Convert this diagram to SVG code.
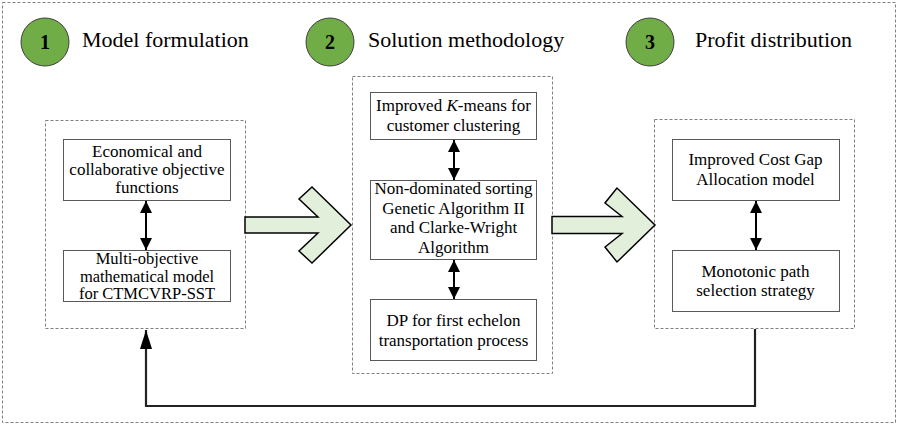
<svg xmlns="http://www.w3.org/2000/svg" width="899" height="425" viewBox="0 0 899 425">
<style>
.dash{fill:none;stroke:#808080;stroke-width:1;stroke-dasharray:3 2}
.box{fill:#fff;stroke:#595959;stroke-width:1}
.num{fill:#70AD47;stroke:#404040;stroke-width:1}
.ntxt{font-family:"Liberation Serif",serif;font-size:20px;font-weight:bold;fill:#000;text-anchor:middle}
.title{font-family:"Liberation Serif",serif;font-size:22px;fill:#000}
.t{font-family:"Liberation Serif",serif;font-size:17px;fill:#000;text-anchor:middle}
.ts{font-size:16.5px}
.big{fill:#E2EFDA;stroke:#000;stroke-width:1.5;stroke-linejoin:miter}
.link{fill:none;stroke:#000;stroke-width:2}
.fb{fill:none;stroke:#222;stroke-width:2.2}
</style>
<defs>
<marker id="ah" viewBox="0 0 12 12" refX="12" refY="6" markerWidth="12" markerHeight="12" markerUnits="userSpaceOnUse" orient="auto-start-reverse">
<path d="M0,0 L12,6 L0,12 z" fill="#000"/>
</marker>
<marker id="ahl" viewBox="0 0 19 12" refX="19" refY="6" markerWidth="19" markerHeight="12" markerUnits="userSpaceOnUse" orient="auto">
<path d="M0,0 L19,6 L0,12 z" fill="#000"/>
</marker>
</defs>
<rect class="dash" x="2.5" y="2.5" width="893" height="420"/>

<g id="step1">
<circle class="num" cx="45" cy="42" r="24"/>
<text class="ntxt" x="45" y="49">1</text>
<text class="title" x="82" y="47">Model formulation</text>
</g>
<g id="step2">
<circle class="num" cx="330" cy="42" r="24"/>
<text class="ntxt" x="330" y="49">2</text>
<text class="title" x="368" y="47">Solution methodology</text>
</g>
<g id="step3">
<circle class="num" cx="650" cy="42" r="24"/>
<text class="ntxt" x="650" y="49">3</text>
<text class="title" x="695" y="47">Profit distribution</text>
</g>

<g id="group1">
<rect class="dash" x="45.5" y="120.5" width="200" height="208"/>
</g>
<g id="group2">
<rect class="dash" x="352.5" y="76.5" width="200" height="297"/>
</g>
<g id="group3">
<rect class="dash" x="654.5" y="119.5" width="200" height="209"/>
</g>

<g id="node-econ">
<rect class="box" x="63.5" y="139.5" width="167" height="61"/>
<text class="t" x="147" y="157">Economical and</text>
<text class="t" x="147" y="175">collaborative objective</text>
<text class="t" x="147" y="193">functions</text>
</g>
<g id="node-multi">
<rect class="box" x="63.5" y="250.5" width="167" height="51"/>
<text class="t ts" x="147" y="264">Multi-objective</text>
<text class="t ts" x="147" y="281.5">mathematical model</text>
<text class="t ts" x="147" y="299">for CTMCVRP-SST</text>
</g>

<g id="node-kmeans">
<rect class="box" x="370.5" y="92.5" width="166" height="47"/>
<text class="t" x="453.5" y="111">Improved <tspan font-style="italic">K</tspan>-means for</text>
<text class="t" x="453.5" y="131">customer clustering</text>
</g>
<g id="node-nsga">
<rect class="box" x="370.5" y="180.5" width="166" height="79"/>
<text class="t" x="453.5" y="194">Non-dominated sorting</text>
<text class="t" x="453.5" y="213.5">Genetic Algorithm II</text>
<text class="t" x="453.5" y="233">and Clarke-Wright</text>
<text class="t" x="453.5" y="252.5">Algorithm</text>
</g>
<g id="node-dp">
<rect class="box" x="370.5" y="299.5" width="166" height="61"/>
<text class="t" x="453.5" y="326">DP for first echelon</text>
<text class="t" x="453.5" y="346">transportation process</text>
</g>

<g id="node-ccga">
<rect class="box" x="672.5" y="139.5" width="167" height="61"/>
<text class="t" x="755.5" y="165">Improved Cost Gap</text>
<text class="t" x="755.5" y="185">Allocation model</text>
</g>
<g id="node-mono">
<rect class="box" x="672.5" y="250.5" width="167" height="61"/>
<text class="t" x="755.5" y="277">Monotonic path</text>
<text class="t" x="755.5" y="296">selection strategy</text>
</g>

<g id="connectors">
<polygon class="big" points="245,217 318,217 299,199 312,187 351,225 312,263 299,251 318,233 245,233"/>
<polygon class="big" points="552,216.5 622,216.5 605,203 617,188 655,225 617,262 605,247 622,233.5 552,233.5"/>
<line class="link" x1="146" y1="201" x2="146" y2="250" marker-start="url(#ah)" marker-end="url(#ah)"/>
<line class="link" x1="454" y1="140" x2="454" y2="180" marker-start="url(#ah)" marker-end="url(#ah)"/>
<line class="link" x1="454" y1="260" x2="454" y2="299" marker-start="url(#ah)" marker-end="url(#ah)"/>
<line class="link" x1="756" y1="201" x2="756" y2="250" marker-start="url(#ah)" marker-end="url(#ah)"/>
<polyline class="fb" points="755,329 755,406 146,406 146,330" marker-end="url(#ahl)"/>
</g>
</svg>
